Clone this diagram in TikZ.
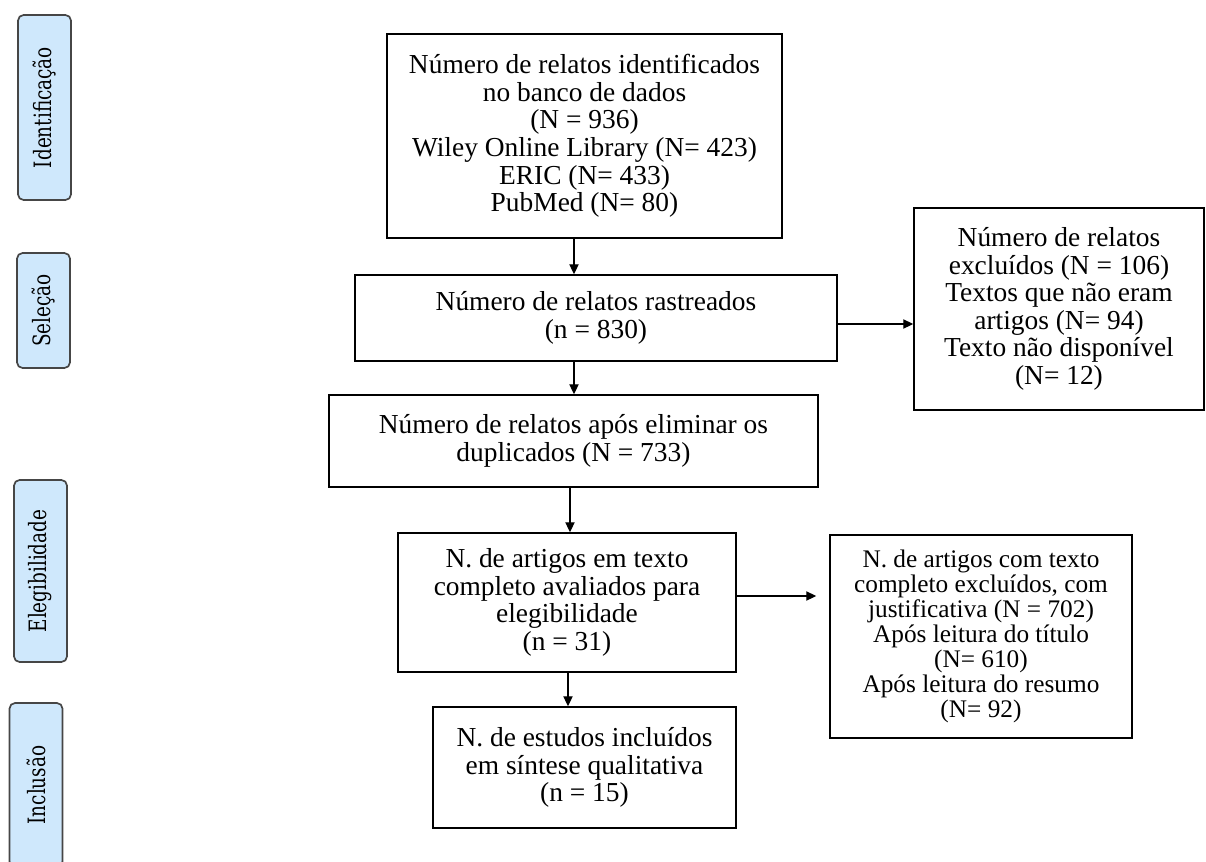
\documentclass[tikz,border=0pt]{standalone}
\usepackage{fontspec}
\setmainfont{Liberation Serif}
\newfontfamily\stagefont[FakeStretch=0.77]{DejaVu Serif}
\usetikzlibrary{arrows.meta}
\definecolor{stageblue}{RGB}{207,232,252}
\definecolor{stageline}{RGB}{70,70,70}

\begin{document}
\begin{tikzpicture}[x=0.025cm, y=-0.025cm,
    every node/.style={align=center, inner sep=0pt},
    flowbox/.style={draw, line width=1pt, font=\fontsize{19.5}{19.6}\selectfont},
    stagebox/.style={draw=stageline, fill=stageblue, rounded corners=0.14cm, line width=1.2pt, rotate=90, minimum height=1.325cm, font=\stagefont\fontsize{17}{18}\selectfont},
    arr/.style={-{Triangle[length=2.5mm, width=2.3mm]}, line width=1pt}]
    \clip (0,0) rectangle (1206,862);

    % etapas
    \node[stagebox, minimum width=4.625cm] (identificacao) at (44.5,107.5) {Identificação};
    \node[stagebox, minimum width=2.875cm] (selecao) at (43.5,310.5) {Seleção};
    \node[stagebox, minimum width=4.55cm] (elegibilidade) at (40.5,571) {Elegibilidade};
    \node[stagebox, minimum width=4.1cm] (inclusao) at (36,785) {Inclusão};

    % fluxo
    \node[flowbox, minimum width=9.875cm, minimum height=5.1cm] (banco) at (584.5,136) {Número de relatos identificados\\no banco de dados\\(N = 936)\\Wiley Online Library (N= 423)\\ERIC (N= 433)\\PubMed (N= 80)};
    \node[flowbox, minimum width=12.05cm, minimum height=2.15cm] (rastreados) at (596,318) {Número de relatos rastreados\\(n = 830)};
    \node[flowbox, minimum width=7.25cm, minimum height=5.05cm] (excluidos) at (1059,309) {Número de relatos\\excluídos (N = 106)\\Textos que não eram\\artigos (N= 94)\\Texto não disponível\\(N= 12)};
    \node[flowbox, minimum width=12.225cm, minimum height=2.3cm] (duplicados) at (573.5,441) {Número de relatos após eliminar os\\duplicados (N = 733)};
    \node[flowbox, minimum width=8.45cm, minimum height=3.475cm] (elegiveis) at (567,602.5) {N. de artigos em texto\\completo avaliados para\\elegibilidade\\(n = 31)};
    \node[flowbox, minimum width=7.55cm, minimum height=5.075cm, font=\fontsize{18}{17.8}\selectfont] (excluidosTexto) at (981,636.5) {N. de artigos com texto\\completo excluídos, com\\justificativa (N = 702)\\Após leitura do título\\(N= 610)\\Após leitura do resumo\\(N= 92)};
    \node[flowbox, minimum width=7.575cm, minimum height=3.025cm] (incluidos) at (584.5,767.5) {N. de estudos incluídos\\em síntese qualitativa\\(n = 15)};

    \coordinate (colA) at (574,0);
    \coordinate (colB) at (570,0);
    \coordinate (colC) at (568,0);
    \coordinate (rowA) at (0,324);
    \coordinate (rowB) at (0,596);

    \draw[arr] (banco.south -| colA) -- (rastreados.north -| colA);
    \draw[arr] (rastreados.south -| colA) -- (duplicados.north -| colA);
    \draw[arr] (duplicados.south -| colB) -- (elegiveis.north -| colB);
    \draw[arr] (elegiveis.south -| colC) -- (incluidos.north -| colC);
    \draw[arr] (rastreados.east |- rowA) -- (excluidos.west |- rowA);
    \draw[arr, shorten >=0.325cm] (elegiveis.east |- rowB) -- (excluidosTexto.west |- rowB);
\end{tikzpicture}
\end{document}
